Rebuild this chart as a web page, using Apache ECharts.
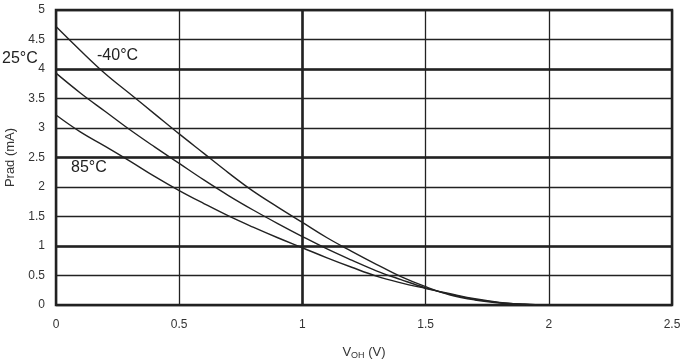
<!DOCTYPE html>
<html><head><meta charset="utf-8">
<script src="https://cdn.jsdelivr.net/npm/echarts@6/dist/echarts.min.js"></script>
<style>html,body{margin:0;padding:0;background:#fff}#c{width:684px;height:359px}</style>
</head><body><div id="c"></div>
<script>
var xValues = [0,0.1,0.2,0.3,0.4,0.5,0.6,0.7,0.8,0.9,1.0,1.1,1.2,1.3,1.4,1.5,1.6,1.7,1.8,1.9,2.0];
var seriesNames = ['-40°C','25°C','85°C'];
var tMinus40 = [4.72,4.31,3.92,3.58,3.24,2.90,2.57,2.24,1.93,1.66,1.40,1.14,0.91,0.69,0.48,0.31,0.17,0.085,0.035,0.01,0];
var t25 = [3.93,3.59,3.28,2.97,2.68,2.40,2.12,1.855,1.61,1.38,1.16,0.95,0.76,0.58,0.43,0.29,0.18,0.095,0.04,0.012,0];
var t85 = [3.22,2.93,2.69,2.44,2.18,1.94,1.72,1.51,1.32,1.14,0.97,0.80,0.64,0.49,0.375,0.28,0.19,0.105,0.045,0.013,0];
var xTicks = [0,0.5,1,1.5,2,2.5];
var yTicks = [0,0.5,1,1.5,2,2.5,3,3.5,4,4.5,5];
var thickY = [1,2.5,4];
var thickX = [1];

function pairs(ys){ return xValues.map(function(x,i){ return [x, ys[i]]; }); }
var dark = '#222';
var font = 'Liberation Sans, Arial, sans-serif';

var chart = echarts.init(document.getElementById('c'), null, {renderer:'canvas'});
chart.setOption({
  animation:false,
  grid:{left:56,right:12,top:10,bottom:54,outerBoundsMode:'none',containLabel:false,show:true,borderColor:dark,borderWidth:2.5,backgroundColor:'transparent'},
  xAxis:{type:'value',min:0,max:2.5,interval:0.5,
    axisLine:{show:false},axisTick:{show:false},
    splitLine:{show:true,lineStyle:{color:dark,width:1.3}},
    axisLabel:{color:'#333',fontSize:12,fontFamily:font,margin:14,
      formatter:function(v){return xTicks.indexOf(v)>=0?String(v):'';}},
    name:'{a|V}{b|OH}{a| (V)}',nameLocation:'middle',nameGap:40,
    nameTextStyle:{rich:{a:{fontSize:13,color:'#333',fontFamily:font},b:{fontSize:9,color:'#333',fontFamily:font,verticalAlign:'bottom',padding:[6,0,0,0]}}}
  },
  yAxis:{type:'value',min:0,max:5,interval:0.5,
    axisLine:{show:false},axisTick:{show:false},
    splitLine:{show:true,lineStyle:{color:dark,width:1.3}},
    axisLabel:{color:'#333',fontSize:12,fontFamily:font,margin:11,
      formatter:function(v){return yTicks.indexOf(v)>=0?String(v):'';}},
    name:'Prad (mA)',nameLocation:'middle',nameGap:35,
    nameTextStyle:{fontSize:13,color:'#333',fontFamily:font}
  },
  series:[
    {type:'line',name:seriesNames[0],data:pairs(tMinus40),smooth:0.4,showSymbol:false,lineStyle:{color:dark,width:1.4},z:5,
     markLine:{silent:true,symbol:'none',label:{show:false},lineStyle:{color:dark,width:2.6,type:'solid'},
       data:thickY.map(function(v){return {yAxis:v};}).concat(thickX.map(function(v){return {xAxis:v};}))}},
    {type:'line',name:seriesNames[1],data:pairs(t25),smooth:0.4,showSymbol:false,lineStyle:{color:dark,width:1.4},z:5},
    {type:'line',name:seriesNames[2],data:pairs(t85),smooth:0.4,showSymbol:false,lineStyle:{color:dark,width:1.4},z:5}
  ],
  graphic:[
    {type:'text',left:97,top:48,style:{text:seriesNames[0],fontSize:16,fill:'#222',fontFamily:font}},
    {type:'text',left:2,top:51,style:{text:seriesNames[1],fontSize:16,fill:'#222',fontFamily:font}},
    {type:'text',left:71,top:160,style:{text:seriesNames[2],fontSize:16,fill:'#222',fontFamily:font}}
  ]
});
</script></body></html>
